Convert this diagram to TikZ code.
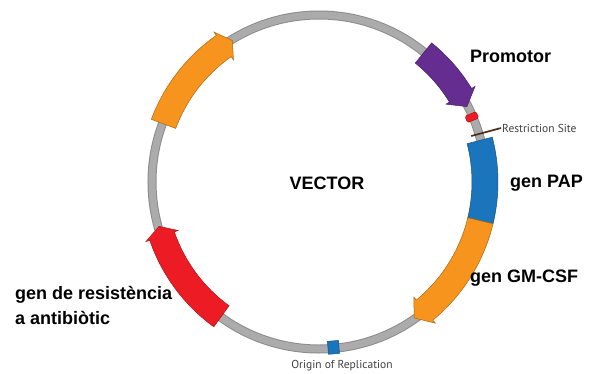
\documentclass[tikz,border=0pt]{standalone}
\usepackage{fontspec}
\setmainfont{Liberation Sans}
\newfontfamily\sitefont{PT Sans}
\usetikzlibrary{positioning}
\definecolor{vcRing}{HTML}{ABABAB}
\definecolor{vcOrange}{HTML}{F7941D}
\definecolor{vcPurple}{HTML}{662D91}
\definecolor{vcBlue}{HTML}{1B75BC}
\definecolor{vcRed}{HTML}{ED1C24}
\definecolor{vcTick}{HTML}{4A2E1A}
\tikzset{
    genebox/.style={fill=#1,draw=#1!70!black,line width=0.5pt},
    genelabel/.style={font=\fontsize{18}{25}\selectfont\bfseries,inner sep=0pt,align=left},
    sitelabel/.style={font=\sitefont\fontsize{11.5}{13}\selectfont,text=black!75,inner sep=0pt}
}
% gene arrow on the ring: colour, tail angle, head base angle, tip angle
\newcommand{\genearrow}[4]{%
  \filldraw[genebox=#1] (#2:153pt) arc[start angle=#2,end angle=#3,radius=153pt]
    -- (#3:149pt) -- (#4:166pt) -- (#3:183pt) -- (#3:179pt)
    arc[start angle=#3,end angle=#2,radius=179pt] -- cycle;}

\begin{document}
\begin{tikzpicture}[x=1pt,y=1pt,
    ring/.style={line width=7pt,vcRing},
    ringedge/.style={line width=9pt,black!45},
    ticklink/.style={line width=1.7pt,vcTick}]

\useasboundingbox (-319,-191) rectangle (279,182);

% plasmid ring
\draw[ringedge] (0,0) circle[radius=167pt];
\draw[ring] (0,0) circle[radius=167pt];

% genes
\genearrow{vcOrange}{159.5}{125}{121.5}
\genearrow{vcPurple}{51}{31.5}{27}
\filldraw[genebox=vcBlue] (14.5:153pt) arc[start angle=14.5,end angle=-13.5,radius=153pt]
    -- (-13.5:179pt) arc[start angle=-13.5,end angle=14.5,radius=179pt] -- cycle;
\genearrow{vcOrange}{-13.5}{-50.5}{-55}
\genearrow{vcRed}{234}{199}{195.5}

% sites
\node[genebox=vcRed,rounded corners=1.5pt,minimum width=12pt,minimum height=7pt,inner sep=0pt,rotate=23] at (23:166pt) (cutsite) {};
\node[genebox=vcBlue,minimum width=11pt,minimum height=13pt,inner sep=0pt,rotate=5] at (-85:166pt) (orisq) {};
\coordinate (restrtick) at (16.8:159pt);

% labels
\node[genelabel] at (8,-1) (vector) {VECTOR};
\node[genelabel,anchor=west] at (151,126) (promotor) {Promotor};
\node[genelabel,anchor=west] at (191,-1) (pap) {gen PAP};
\node[genelabel,anchor=west] at (151,-96) (gmcsf) {gen GM-CSF};
\node[genelabel,anchor=west] at (-304,-123) (resist) {gen de resistència\\a antibiòtic};
\node[sitelabel,anchor=west] at (183,54) (restr) {Restriction Site};
\node[sitelabel] at (23,-184) (ori) {Origin of Replication};

\draw[ticklink] (restrtick) -- ([xshift=-1pt]restr.west);

\end{tikzpicture}
\end{document}
